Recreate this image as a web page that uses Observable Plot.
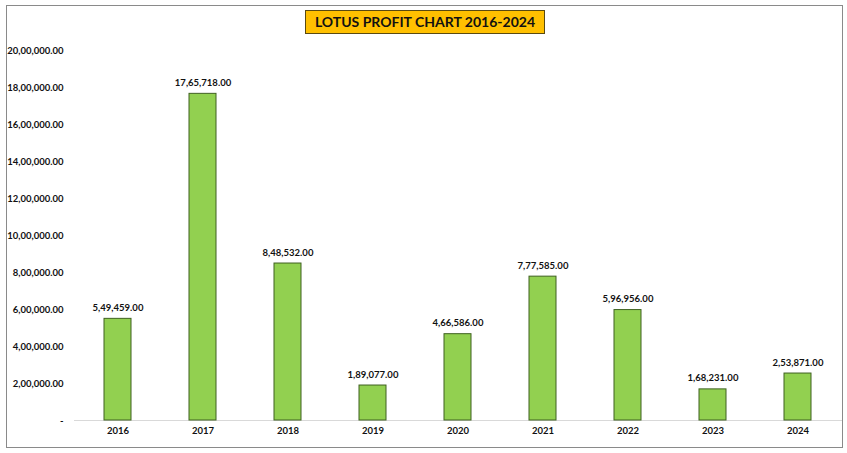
<!DOCTYPE html>
<html>
<head>
<meta charset="utf-8">
<script src="https://cdn.jsdelivr.net/npm/d3@7"></script>
<script src="https://cdn.jsdelivr.net/npm/@observablehq/plot@0.6"></script>
<style>
  html, body { margin: 0; padding: 0; background: #fff; }
  #wrap { position: relative; width: 847px; height: 453px; overflow: hidden; font-family: Lato, "Open Sans", sans-serif; }
  #frame { position: absolute; left: 6px; top: 5px; width: 835px; height: 441px; border: 1.5px solid #8a8a8a; box-sizing: content-box; }
  #title { position: absolute; left: 305px; top: 10px; width: 238px; height: 22px; line-height: 22px; background: #FFC000; border: 1px solid #5a4a10; text-align: center; font-weight: 700; font-size: 14px; color: #111; white-space: nowrap; }
  #chart { position: absolute; left: 0; top: 0; }
</style>
</head>
<body>
<div id="wrap">
  <div id="frame"></div>
  <div id="chart"></div>
  <div id="title">LOTUS PROFIT CHART 2016-2024</div>
</div>
<script>
const years = ["2016", "2017", "2018", "2019", "2020", "2021", "2022", "2023", "2024"];
const profits = [549459, 1765718, 848532, 189077, 466586, 777585, 596956, 168231, 253871];
const yTicks = [0, 200000, 400000, 600000, 800000, 1000000, 1200000, 1400000, 1600000, 1800000, 2000000];

function fmtIN(v) {
  const s = Math.round(v).toString();
  let last3 = s.slice(-3);
  let rest = s.slice(0, -3);
  if (rest.length) {
    rest = rest.replace(/\B(?=(\d{2})+(?!\d))/g, ",");
    last3 = rest + "," + last3;
  }
  return last3 + ".00";
}

const data = years.map((y, i) => ({year: y, profit: profits[i]}));

const chart = Plot.plot({
  width: 847,
  height: 453,
  marginTop: 50,
  marginBottom: 33,
  marginLeft: 74,
  marginRight: 5,
  style: {fontFamily: "Lato, 'Open Sans', sans-serif", fontSize: "9.5px", fontWeight: "700", color: "#111", background: "transparent"},
  x: {domain: years, paddingInner: 0.68, paddingOuter: 0.34, label: null, tickSize: 0, tickPadding: 7},
  y: {domain: [0, 2000000], ticks: yTicks, label: null, tickSize: 0, tickPadding: 11,
      tickFormat: d => d === 0 ? "-" : fmtIN(d)},
  marks: [
    Plot.ruleY([0], {stroke: "#d9d9d9", strokeWidth: 1}),
    Plot.barY(data, {x: "year", y: "profit", fill: "#92D050", stroke: "#3f6120", strokeWidth: 1}),
    Plot.text(data, {x: "year", y: "profit", text: d => fmtIN(d.profit), dy: -11, fontWeight: 700, fontSize: 9.5, fill: "#111"})
  ]
});
document.getElementById("chart").appendChild(chart);
</script>
</body>
</html>
